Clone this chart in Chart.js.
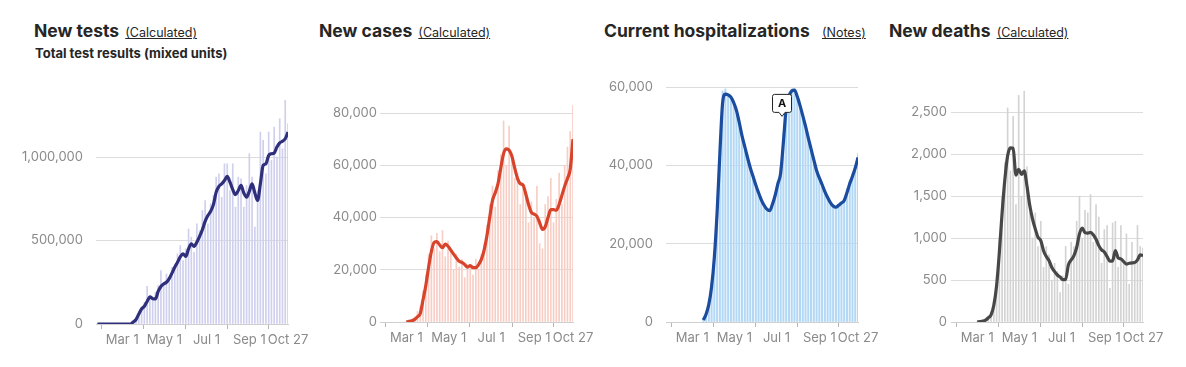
<!DOCTYPE html>
<html>
<head>
<meta charset="utf-8">
<script src="https://cdn.jsdelivr.net/npm/chart.js@4"></script>
<style>
  body { margin: 0; background: #fff; font-family: Inter, "Noto Sans", sans-serif; color: #262626; }
  .title { position: absolute; top: 21px; font-size: 17.5px; font-weight: 700; line-height: 20px; white-space: nowrap; }
  .title a { font-size: 12.5px; font-weight: 400; color: #262626; text-decoration: underline; margin-left: 2px; }
  .sub { position: absolute; top: 45px; left: 35px; font-size: 13px; font-weight: 700; white-space: nowrap; }
  canvas { position: absolute; }
</style>
</head>
<body>
<div class="title" style="left:34px">New tests <a>(Calculated)</a></div>
<div class="sub">Total test results (mixed units)</div>
<div class="title" style="left:319px">New cases <a>(Calculated)</a></div>
<div class="title" style="left:604px">Current hospitalizations <a style="margin-left:8px">(Notes)</a></div>
<div class="title" style="left:889px">New deaths <a>(Calculated)</a></div>

<canvas id="tests" width="302" height="280" style="left:6px;top:80px"></canvas>
<canvas id="cases" width="303" height="278" style="left:290px;top:80px"></canvas>
<canvas id="hosp" width="302" height="278" style="left:576px;top:80px"></canvas>
<canvas id="deaths" width="302" height="278" style="left:861px;top:80px"></canvas>

<script>
// days counted from Jan 1 2020; one value every 4 days
let startDay = 24;
let stepDays = 4;
let days = [];
for (let i = 0; i < 70; i++) days.push(startDay + i * stepDays);

let tickDays = [60, 121, 182, 244, 300];
let tickLabels = ['Mar 1', 'May 1', 'Jul 1', 'Sep 1', 'Oct 27'];

let testsTicks = [0, 500000, 1000000];
let casesTicks = [0, 20000, 40000, 60000, 80000];
let hospTicks = [0, 20000, 40000, 60000];
let deathsTicks = [0, 500, 1000, 1500, 2000, 2500];

let testsBars = [0,0,0,0,0,0,0,0,0,0,0,0,0,
  20000,40000,75000,100000,130000,225000,170000,140000,190000,230000,
  320000,250000,300000,260000,340000,330000,420000,470000,380000,450000,
  570000,520000,430000,600000,560000,680000,740000,600000,720000,770000,
  880000,900000,760000,960000,960000,800000,960000,700000,880000,870000,
  700000,830000,1020000,880000,580000,800000,1150000,1100000,900000,1150000,
  980000,1180000,1000000,1230000,1050000,1340000,1200000];
let testsAvg = [0,0,0,0,0,0,0,0,0,0,0,0,0,
  12000,27000,60000,90000,106000,135000,162000,152000,150000,195000,
  225000,240000,250000,272000,305000,340000,370000,402000,420000,405000,
  450000,480000,465000,490000,525000,565000,615000,650000,675000,715000,
  790000,825000,840000,860000,884000,850000,805000,775000,800000,830000,
  785000,760000,795000,840000,785000,740000,840000,950000,960000,1010000,
  1020000,1025000,1060000,1085000,1095000,1110000,1150000];

let casesBars = [null,null,null,null,null,null,null,null,null,
  0,500,1000,2000,4000,6000,12000,18000,26000,33000,
  28000,34000,27000,35000,25000,31000,28000,20000,26000,21000,
  24000,17000,22000,21000,18000,24000,20000,26000,30000,37000,
  45000,52000,44000,58000,64000,77000,60000,75000,62000,55000,
  57000,45000,52000,48000,38000,46000,40000,52000,30000,28000,
  45000,48000,55000,38000,47000,57000,45000,60000,67000,73000,
  83000];
let casesAvg = [null,null,null,null,null,null,null,null,null,
  0,300,500,1000,2000,3300,8500,14000,21000,27000,
  30500,30800,29500,28500,29800,29000,27500,26000,24500,23300,
  22800,22000,21000,21600,20800,20800,22000,24000,27500,33000,
  40000,46500,49500,53000,59000,64500,66300,65800,63500,59000,
  55000,53000,52500,49000,45000,42000,41300,40500,38000,35500,
  36500,40000,43000,43000,42800,45000,48500,52000,55000,58500,
  70000];

let hospBars = [null,null,null,null,null,null,null,null,null,null,null,null,null,
  800,2500,5000,10000,18000,30000,47000,59000,59500,58000,
  57000,55500,53000,50500,47000,44000,41500,39000,37000,34500,
  32500,31000,29500,28500,28500,30500,33000,36000,39500,48000,
  56000,58500,59500,59500,57000,54500,52000,49500,46500,43500,
  41000,38500,36500,34500,33000,31500,30000,29500,29500,30000,
  30500,31500,34000,36000,38000,40000,43000];
let hospAvg = [null,null,null,null,null,null,null,null,null,null,null,null,null,
  500,2000,4500,9000,16500,28000,43000,56000,58200,58000,
  57400,56000,54000,51000,47600,44800,42000,39400,37200,35000,
  33000,31200,29800,28800,28400,30000,32300,35300,38000,46000,
  54500,57600,59000,59200,57600,55300,52700,50000,47000,44200,
  41400,38700,36800,35100,33300,31800,30500,29600,29300,29800,
  30400,31000,33000,35300,37200,39300,42000];
let hospNotes = [{ day: 190, value: 52500, label: 'A' }];

let deathsBars = [null,null,null,null,null,null,null,null,null,
  2,8,15,30,70,120,260,550,1000,1500,
  1900,2550,1800,2450,1400,2700,1500,2750,1850,1300,
  1000,1300,900,1200,650,900,800,500,700,600,
  350,550,900,450,950,900,1200,1500,1000,1330,
  1300,1520,950,1400,1250,700,1100,1150,400,1180,
  1200,650,1150,700,1050,450,950,700,1150,900,
  880];
let deathsAvg = [null,null,null,null,null,null,null,null,null,
  2,5,10,22,50,85,200,430,830,1300,
  1700,1980,2075,2070,1750,1820,1760,1800,1620,1390,
  1230,1110,1010,970,850,780,730,650,600,560,
  535,505,510,680,740,790,890,1050,1120,1065,
  1060,1068,1040,985,910,860,835,780,725,728,
  850,765,752,720,690,700,705,708,740,800,
  790];

let tickFont = { family: 'Inter, "Noto Sans", sans-serif', size: 13 };
let tickColor = '#8a8a8a';

// little callout boxes ("A") drawn at a date / value
let notesPlugin = {
  id: 'notes',
  afterDatasetsDraw(chart, args, opts) {
    if (!opts.items) return;
    let ctx = chart.ctx;
    opts.items.forEach(n => {
      let px = chart.scales.x.getPixelForValue(n.day);
      let py = chart.scales.y.getPixelForValue(n.value);
      let w = 19, h = 18, bottom = py - 4;
      ctx.save();
      ctx.fillStyle = '#fff';
      ctx.strokeStyle = '#222';
      ctx.lineWidth = 1;
      ctx.beginPath();
      ctx.moveTo(px - w / 2 + 2, bottom - h);
      ctx.lineTo(px + w / 2 - 2, bottom - h);
      ctx.quadraticCurveTo(px + w / 2, bottom - h, px + w / 2, bottom - h + 2);
      ctx.lineTo(px + w / 2, bottom - 2);
      ctx.quadraticCurveTo(px + w / 2, bottom, px + w / 2 - 2, bottom);
      ctx.lineTo(px + 3, bottom);
      ctx.lineTo(px, bottom + 4);
      ctx.lineTo(px - 3, bottom);
      ctx.lineTo(px - w / 2 + 2, bottom);
      ctx.quadraticCurveTo(px - w / 2, bottom, px - w / 2, bottom - 2);
      ctx.lineTo(px - w / 2, bottom - h + 2);
      ctx.quadraticCurveTo(px - w / 2, bottom - h, px - w / 2 + 2, bottom - h);
      ctx.closePath();
      ctx.fill();
      ctx.stroke();
      ctx.fillStyle = '#111';
      ctx.font = 'bold 11px Inter, sans-serif';
      ctx.textAlign = 'center';
      ctx.textBaseline = 'middle';
      ctx.fillText(n.label, px, bottom - h / 2 + 0.5);
      ctx.restore();
    });
  }
};

function makeChart(id, bars, avg, yTicks, lineColor, barColor, yMax, labelPad, barWidth, notes) {
  return new Chart(document.getElementById(id), {
    type: 'bar',
    data: {
      datasets: [{
        type: 'line',
        data: days.map((d, i) => ({ x: d, y: avg[i] })),
        borderColor: lineColor,
        borderWidth: 3.2,
        pointRadius: 0,
        cubicInterpolationMode: 'monotone',
        order: 0
      }, {
        type: 'bar',
        data: days.map((d, i) => ({ x: d, y: bars[i] })),
        backgroundColor: barColor,
        barThickness: barWidth,
        order: 1
      }]
    },
    options: {
      responsive: false,
      animation: false,
      layout: { padding: { top: 7, right: 20, left: 0, bottom: 0 } },
      plugins: {
        legend: { display: false },
        tooltip: { enabled: false },
        notes: { items: notes }
      },
      scales: {
        x: {
          type: 'linear',
          min: 22,
          max: 300,
          offset: false,
          grid: { drawOnChartArea: false, drawTicks: true, tickLength: 5, color: '#b5b5b5' },
          border: { display: true, color: '#cfcfcf' },
          ticks: {
            color: tickColor,
            font: tickFont,
            padding: 3,
            maxRotation: 0,
            autoSkip: false,
            callback: v => tickLabels[tickDays.indexOf(v)]
          },
          afterBuildTicks: s => { s.ticks = tickDays.map(v => ({ value: v })); },
          afterFit: s => { s.height = 36; s.paddingLeft = 0; s.paddingRight = 0; }
        },
        y: {
          min: 0,
          max: yMax,
          grid: { color: '#dcdcdc', drawTicks: false },
          border: { display: false },
          ticks: {
            color: tickColor,
            font: tickFont,
            padding: labelPad,
            autoSkip: false,
            callback: v => v.toLocaleString('en-US')
          },
          afterBuildTicks: s => { s.ticks = yTicks.map(v => ({ value: v })); },
          afterFit: s => { s.width = 90; s.paddingTop = 0; s.paddingBottom = 0; }
        }
      }
    },
    plugins: [notesPlugin]
  });
}

makeChart('tests', testsBars, testsAvg, testsTicks, '#2f2f7c', '#cfcfee', 1420000, 13, 1, null);
makeChart('cases', casesBars, casesAvg, casesTicks, '#d8432b', '#f7cdc4', 90000, 3, 1, null);
makeChart('hosp', hospBars, hospAvg, hospTicks, '#1b4c9e', '#b3d8f5', 60000, 13, 1.4, hospNotes);
makeChart('deaths', deathsBars, deathsAvg, deathsTicks, '#474747', '#d3d3d3', 2800, 4, 1, null);
</script>
</body>
</html>
